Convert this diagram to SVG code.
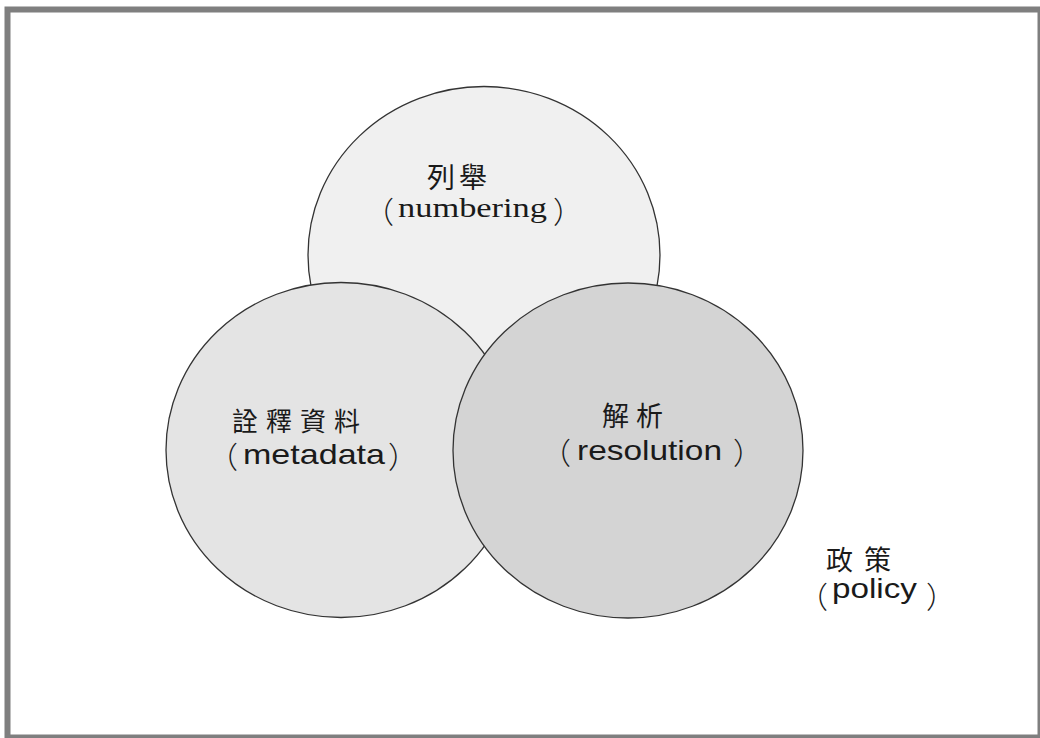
<svg xmlns="http://www.w3.org/2000/svg" width="1040" height="738" viewBox="0 0 1040 738">
<style>
.bg{fill:#ffffff}
.frame{fill:none;stroke:#7f7f7f;stroke-width:6}
.circle{stroke:#333333;stroke-width:1.3}
.c1{fill:#f0f0f0}
.c2{fill:#e4e4e4}
.c3{fill:#d4d4d4}
.cjk{font-family:"Noto Sans CJK TC","Noto Sans CJK SC",sans-serif;fill:#1a1a1a}
.par{font-family:"Noto Sans CJK TC","Noto Sans CJK SC",sans-serif;font-size:30px;font-weight:300;fill:#1a1a1a}
.sans{font-family:"Liberation Sans",Arial,sans-serif;font-size:28px;fill:#1a1a1a}
.serif{font-family:"Liberation Serif","Times New Roman",serif;font-size:28px;fill:#1a1a1a}
</style>
<rect class="bg" x="0" y="0" width="1040" height="738"/>
<g id="policy">
<rect class="frame" x="7.5" y="9.5" width="1033" height="728"/>
<text class="cjk" x="826" y="570" font-size="27" letter-spacing="11">政策</text>
<text class="par" x="798" y="608">（</text>
<text class="sans" x="832" y="598" textLength="85" lengthAdjust="spacingAndGlyphs">policy</text>
<text class="par" x="926" y="608">）</text>
</g>
<g id="numbering">
<ellipse class="circle c1" cx="484" cy="255" rx="176" ry="168.5"/>
<text class="cjk" x="427" y="188" font-size="28" letter-spacing="4">列舉</text>
<text class="par" x="364" y="223">（</text>
<text class="serif" x="398" y="217" textLength="149" lengthAdjust="spacingAndGlyphs">numbering</text>
<text class="par" x="553" y="223">）</text>
</g>
<g id="metadata">
<ellipse class="circle c2" cx="341" cy="450" rx="175" ry="167.5"/>
<text class="cjk" x="232" y="431" font-size="26" letter-spacing="8">詮釋資料</text>
<text class="par" x="208" y="468">（</text>
<text class="sans" x="243" y="464" textLength="142" lengthAdjust="spacingAndGlyphs">metadata</text>
<text class="par" x="388" y="468">）</text>
</g>
<g id="resolution">
<ellipse class="circle c3" cx="628" cy="450.5" rx="175" ry="167.5"/>
<text class="cjk" x="602" y="426" font-size="27" letter-spacing="7">解析</text>
<text class="par" x="541" y="464">（</text>
<text class="sans" x="577" y="460" textLength="145" lengthAdjust="spacingAndGlyphs">resolution</text>
<text class="par" x="733" y="464">）</text>
</g>
<g id="connectors"></g>
</svg>
